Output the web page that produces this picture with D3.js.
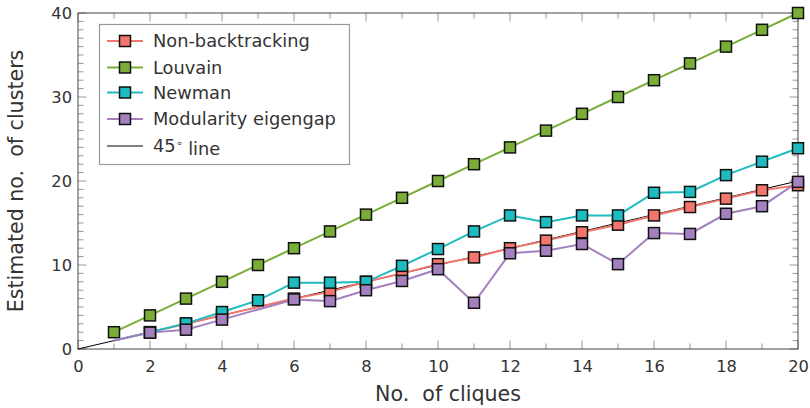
<!DOCTYPE html>
<html>
<head>
<meta charset="utf-8">
<script src="https://cdn.jsdelivr.net/npm/d3@7"></script>
<style>
  html, body { margin: 0; padding: 0; background: #fff; }
  svg { display: block; font-family: "DejaVu Sans", sans-serif; }
</style>
</head>
<body>
<svg id="chart" width="810" height="408"></svg>
<script>
// Number of planted cliques on the x axis
const cliques = [1, 2, 3, 4, 5, 6, 7, 8, 9, 10, 11, 12, 13, 14, 15, 16, 17, 18, 19, 20];

// Estimated number of clusters per method (null = no estimate at that size)
const nonBacktracking = [1, 2, 3, 4, null, 6, 6.8, 8, 9, 10.1, 10.9, 12, 12.9, 13.9, 14.8, 15.9, 16.9, 17.9, 18.9, 19.5];
const louvain = [2, 4, 6, 8, 10, 12, 14, 16, 18, 20, 22, 24, 26, 28, 30, 32, 34, 36, 38, 40];
const newman = [1, 2, 3.05, 4.4, 5.8, 7.9, 7.9, 8, 9.9, 11.9, 14, 15.9, 15.1, 15.9, 15.9, 18.6, 18.7, 20.7, 22.3, 23.9];
const modularityEigengap = [1, 1.95, 2.3, 3.5, null, 5.9, 5.7, 7, 8.1, 9.5, 5.5, 11.4, 11.7, 12.5, 10.1, 13.8, 13.7, 16.1, 17, 19.9];

// Markers are shown from this number of cliques onward
const markersFrom = [2, 1, 2, 2];

const seriesNames = ["Non-backtracking", "Louvain", "Newman", "Modularity eigengap"];
const seriesValues = [nonBacktracking, louvain, newman, modularityEigengap];
const seriesColors = ["#f4756c", "#7aad37", "#1cbcc0", "#a480be"];

const xTicks = [0, 2, 4, 6, 8, 10, 12, 14, 16, 18, 20];
const yTicks = [0, 10, 20, 30, 40];
const xDomain = [0, 20];
const yDomain = [0, 40];

const svg = d3.select("#chart");
const m = { left: 78, right: 798, top: 13, bottom: 349 };

const x = d3.scaleLinear().domain(xDomain).range([m.left, m.right]);
const y = d3.scaleLinear().domain(yDomain).range([m.bottom, m.top]);

const tickColor = "#999";
const spineColor = "#444";
const textColor = "#333";

// Inward ticks on all four sides: major (labelled) and minor (every unit)
const gTicks = svg.append("g");
const xMinor = d3.range(xDomain[0], xDomain[1] + 1);
const yMinor = d3.range(yDomain[0], yDomain[1] + 1);
function tickLen(v, majors) { return majors.includes(v) ? 8.5 : 5.5; }

xMinor.forEach(v => {
  const L = tickLen(v, xTicks);
  gTicks.append("line").attr("x1", x(v)).attr("x2", x(v))
    .attr("y1", m.bottom).attr("y2", m.bottom - L);
  gTicks.append("line").attr("x1", x(v)).attr("x2", x(v))
    .attr("y1", m.top).attr("y2", m.top + L);
});
yMinor.forEach(v => {
  const L = tickLen(v, yTicks);
  gTicks.append("line").attr("y1", y(v)).attr("y2", y(v))
    .attr("x1", m.left).attr("x2", m.left + L);
  gTicks.append("line").attr("y1", y(v)).attr("y2", y(v))
    .attr("x1", m.right).attr("x2", m.right - L);
});
gTicks.selectAll("line").attr("stroke", tickColor).attr("stroke-width", 1);

// Tick labels via d3 axes (tick lines hidden; drawn above)
const xAxis = svg.append("g")
  .attr("transform", `translate(0,${m.bottom})`)
  .call(d3.axisBottom(x).tickValues(xTicks).tickFormat(d3.format("d")).tickSize(0).tickPadding(8));
const yAxis = svg.append("g")
  .attr("transform", `translate(${m.left},0)`)
  .call(d3.axisLeft(y).tickValues(yTicks).tickFormat(d3.format("d")).tickSize(0).tickPadding(6));
[xAxis, yAxis].forEach(a => {
  a.select(".domain").remove();
  a.selectAll("text").attr("fill", textColor)
    .style("font-family", "'DejaVu Sans', sans-serif").style("font-size", "16.3px");
});
xAxis.selectAll("text").attr("dy", "0.95em");

// Frame
svg.append("rect")
  .attr("x", m.left).attr("y", m.top)
  .attr("width", m.right - m.left).attr("height", m.bottom - m.top)
  .attr("fill", "none").attr("stroke", spineColor).attr("stroke-width", 1);

// 45 degree reference line
svg.append("line")
  .attr("x1", x(xDomain[0])).attr("y1", y(xDomain[0]))
  .attr("x2", x(xDomain[1])).attr("y2", y(xDomain[1]))
  .attr("stroke", "#000").attr("stroke-width", 1);

const line = d3.line().x(d => x(d[0])).y(d => y(d[1]));
const msz = 11;

seriesValues.forEach((vals, i) => {
  const pts = cliques.map((c, k) => [c, vals[k]]).filter(d => d[1] !== null);
  svg.append("path").datum(pts)
    .attr("d", line)
    .attr("fill", "none")
    .attr("stroke", seriesColors[i])
    .attr("stroke-width", 2);
  svg.append("g").selectAll("rect")
    .data(pts.filter(d => d[0] >= markersFrom[i]))
    .join("rect")
    .attr("x", d => x(d[0]) - msz / 2)
    .attr("y", d => y(d[1]) - msz / 2)
    .attr("width", msz).attr("height", msz)
    .attr("fill", seriesColors[i])
    .attr("stroke", "#111").attr("stroke-width", 1.5);
});

// Axis titles
svg.append("text")
  .attr("x", 448).attr("y", 401)
  .attr("text-anchor", "middle")
  .attr("fill", textColor)
  .style("font-size", "20.6px")
  .style("white-space", "pre")
  .text("No.  of cliques");

svg.append("text")
  .attr("transform", `translate(23,${(m.top + m.bottom) / 2}) rotate(-90)`)
  .attr("text-anchor", "middle")
  .attr("fill", textColor)
  .style("font-size", "20.6px")
  .style("white-space", "pre")
  .text("Estimated no.  of clusters");

// Legend
const lg = svg.append("g");
lg.append("rect")
  .attr("x", 99.5).attr("y", 24.5).attr("width", 250).attr("height", 140)
  .attr("fill", "#fff").attr("stroke", "#999").attr("stroke-width", 1.2);

const rowsY = [41, 67.5, 92.5, 119, 146];
const legendFont = "17.8px";
seriesNames.forEach((name, i) => {
  const ry = rowsY[i];
  lg.append("line").attr("x1", 107).attr("x2", 143).attr("y1", ry).attr("y2", ry)
    .attr("stroke", seriesColors[i]).attr("stroke-width", 2);
  lg.append("rect").attr("x", 125 - msz / 2).attr("y", ry - msz / 2)
    .attr("width", msz).attr("height", msz)
    .attr("fill", seriesColors[i]).attr("stroke", "#111").attr("stroke-width", 1.5);
  lg.append("text").attr("x", 153).attr("y", ry).attr("dy", "0.36em")
    .attr("fill", textColor).style("font-size", legendFont).text(name);
});
const ry45 = rowsY[4];
lg.append("line").attr("x1", 107).attr("x2", 143).attr("y1", ry45).attr("y2", ry45)
  .attr("stroke", "#000").attr("stroke-width", 1);
const t45 = lg.append("text").attr("x", 153).attr("y", ry45).attr("dy", "0.36em")
  .attr("fill", textColor).style("font-size", legendFont).style("white-space", "pre");
t45.append("tspan").text("45");
t45.append("tspan").attr("dy", "-0.45em").style("font-size", "11px").text("∘");
t45.append("tspan").attr("dy", "0.45em").text(" line");
</script>
</body>
</html>
